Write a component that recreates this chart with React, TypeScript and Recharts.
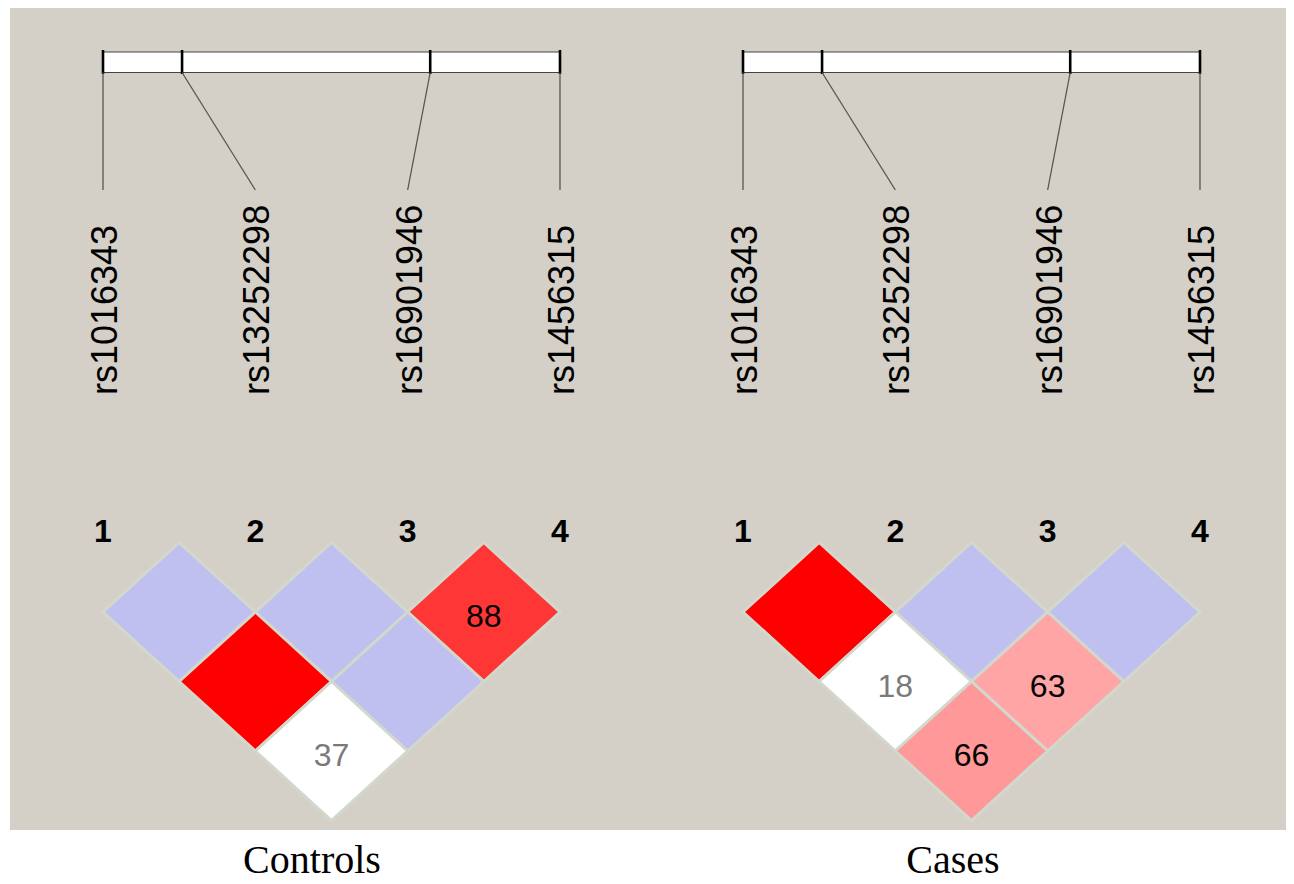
import React from 'react';
import { ScatterChart, Scatter, XAxis, YAxis, ReferenceArea, ReferenceLine } from 'recharts';

// ---------------- data ----------------
const markerNames = ['rs1016343', 'rs13252298', 'rs16901946', 'rs1456315'];
const markerNumbers = ['1', '2', '3', '4'];
// relative physical position of each SNP along the region (kb)
const markerPositionsKb = [0, 17.3, 71.6, 100.0];

// marker pairs (i, j) of the LD triangle
const pairs: [number, number][] = [
  [1, 2], [2, 3], [3, 4], [1, 3], [2, 4], [1, 4],
];
// D' x 100 for each pair, and whether LOD >= 2
const controlsDPrime = [100, 100, 88, 100, 100, 37];
const controlsLodHigh = [false, false, true, true, false, false];
const casesDPrime = [100, 100, 100, 18, 63, 66];
const casesLodHigh = [true, false, false, false, true, true];

const panelTitles = ['Controls', 'Cases'];

// ---------------- layout ----------------
const CHART_W = 640;
const CHART_H = 884;
const PX_PER_X = 152.33; // pixels per marker index
const X1_PX = 103; // pixel of marker 1
const PX_PER_Y = 69.5; // pixels per LD row
const Y0_PX = 542.5; // pixel of row 0

const X_DOMAIN: [number, number] = [1 - X1_PX / PX_PER_X, 1 + (CHART_W - X1_PX) / PX_PER_X];
const Y_DOMAIN: [number, number] = [-Y0_PX / PX_PER_Y, (CHART_H - Y0_PX) / PX_PER_Y];
const toY = (px: number) => (px - Y0_PX) / PX_PER_Y;

const BAR_TOP = toY(52);
const BAR_BOTTOM = toY(72.5);
const TICK_TOP = toY(50);
const TICK_BOTTOM = toY(74);
const LINE_BOTTOM = toY(190);
const LABEL_BASE = toY(395);
const NUMBER_BASE = toY(542);

const BG = '#d4d0c8';
const GAP = '#d3d8cc';
const SANS = '"Liberation Sans", Arial, Helvetica, sans-serif';

const span = markerPositionsKb[markerPositionsKb.length - 1] - markerPositionsKb[0];
const barX = (kb: number) => 1 + (markerNames.length - 1) * (kb - markerPositionsKb[0]) / span;

function haploviewColor(d: number, lodHigh: boolean) {
  if (lodHigh) {
    if (d >= 100) return 'rgb(255,0,0)';
    const v = Math.round(223 * 2 * (1 - d / 100));
    return `rgb(255,${v},${v})`;
  }
  if (d >= 100) return 'rgb(192,192,240)';
  return 'rgb(255,255,255)';
}

const markerData = markerNames.map((name, k) => ({ x: k + 1, y: LABEL_BASE, name }));
const numberData = markerNumbers.map((n, k) => ({ x: k + 1, y: NUMBER_BASE, name: n }));

function buildCells(dp: number[], lod: boolean[]) {
  return pairs.map(([i, j], k) => ({
    x: (i + j) / 2,
    y: j - i,
    d: dp[k],
    lod: lod[k],
  }));
}

const DiamondShape = (props: any) => {
  const { cx, cy, payload } = props;
  if (cx == null || cy == null) return null;
  const hw = PX_PER_X / 2;
  const hh = PX_PER_Y;
  const pts = `${cx},${cy - hh} ${cx + hw},${cy} ${cx},${cy + hh} ${cx - hw},${cy}`;
  const fill = haploviewColor(payload.d, payload.lod);
  return (
    <g>
      <polygon points={pts} fill={fill} stroke={GAP} strokeWidth={3} />
      {payload.d < 100 && (
        <text
          x={cx}
          y={cy + 15}
          textAnchor="middle"
          fontFamily={SANS}
          fontSize={32}
          fill={payload.lod ? '#000000' : '#7a7a7a'}
        >
          {payload.d}
        </text>
      )}
    </g>
  );
};

const LabelShape = (props: any) => {
  const { cx, cy, payload } = props;
  if (cx == null || cy == null) return null;
  return (
    <text
      x={cx}
      y={cy}
      dy={14}
      transform={`rotate(-90 ${cx} ${cy})`}
      textAnchor="start"
      fontFamily={SANS}
      fontSize={36}
      fill="#000"
    >
      {payload.name}
    </text>
  );
};

const NumberShape = (props: any) => {
  const { cx, cy, payload } = props;
  if (cx == null || cy == null) return null;
  return (
    <text x={cx} y={cy} textAnchor="middle" fontFamily={SANS} fontWeight="bold" fontSize={32} fill="#000">
      {payload.name}
    </text>
  );
};

function LDPanel({ dp, lod }: { dp: number[]; lod: boolean[] }) {
  const cells = buildCells(dp, lod);
  return (
    <ScatterChart width={CHART_W} height={CHART_H} margin={{ top: 0, right: 0, bottom: 0, left: 0 }}>
      <XAxis type="number" dataKey="x" domain={X_DOMAIN} allowDataOverflow hide />
      <YAxis type="number" dataKey="y" domain={Y_DOMAIN} allowDataOverflow reversed hide />
      <ReferenceArea
        x1={1}
        x2={markerNames.length}
        y1={BAR_TOP}
        y2={BAR_BOTTOM}
        fill="#ffffff"
        fillOpacity={1}
        stroke="#444"
        strokeWidth={1.2}
        ifOverflow="visible"
      />
      {markerPositionsKb.map((kb, k) => (
        <ReferenceLine
          key={`t${k}`}
          segment={[{ x: barX(kb), y: TICK_TOP }, { x: barX(kb), y: TICK_BOTTOM }]}
          stroke="#000"
          strokeWidth={2.6}
          ifOverflow="visible"
        />
      ))}
      {markerPositionsKb.map((kb, k) => (
        <ReferenceLine
          key={`c${k}`}
          segment={[{ x: barX(kb), y: BAR_BOTTOM }, { x: k + 1, y: LINE_BOTTOM }]}
          stroke="#555"
          strokeWidth={1.3}
          ifOverflow="visible"
        />
      ))}
      <Scatter data={markerData} shape={LabelShape} isAnimationActive={false} />
      <Scatter data={numberData} shape={NumberShape} isAnimationActive={false} />
      <Scatter data={cells} shape={DiamondShape} isAnimationActive={false} />
    </ScatterChart>
  );
}

export default function App() {
  return (
    <div style={{ position: 'absolute', left: 0, top: 0, width: 1294, height: 884, overflow: 'hidden', background: '#fff' }}>
      <div style={{ position: 'absolute', left: 10, top: 8, width: 1276, height: 822, background: BG }} />
      <div style={{ position: 'absolute', left: 0, top: 0 }}>
        <LDPanel dp={controlsDPrime} lod={controlsLodHigh} />
      </div>
      <div style={{ position: 'absolute', left: 640, top: 0 }}>
        <LDPanel dp={casesDPrime} lod={casesLodHigh} />
      </div>
      {panelTitles.map((t, k) => (
        <div
          key={t}
          style={{
            position: 'absolute',
            left: 312 + k * 641 - 200,
            top: 838,
            width: 400,
            textAlign: 'center',
            fontFamily: '"Liberation Serif", "Times New Roman", serif',
            fontSize: 40,
            lineHeight: '44px',
            color: '#000',
          }}
        >
          {t}
        </div>
      ))}
    </div>
  );
}
